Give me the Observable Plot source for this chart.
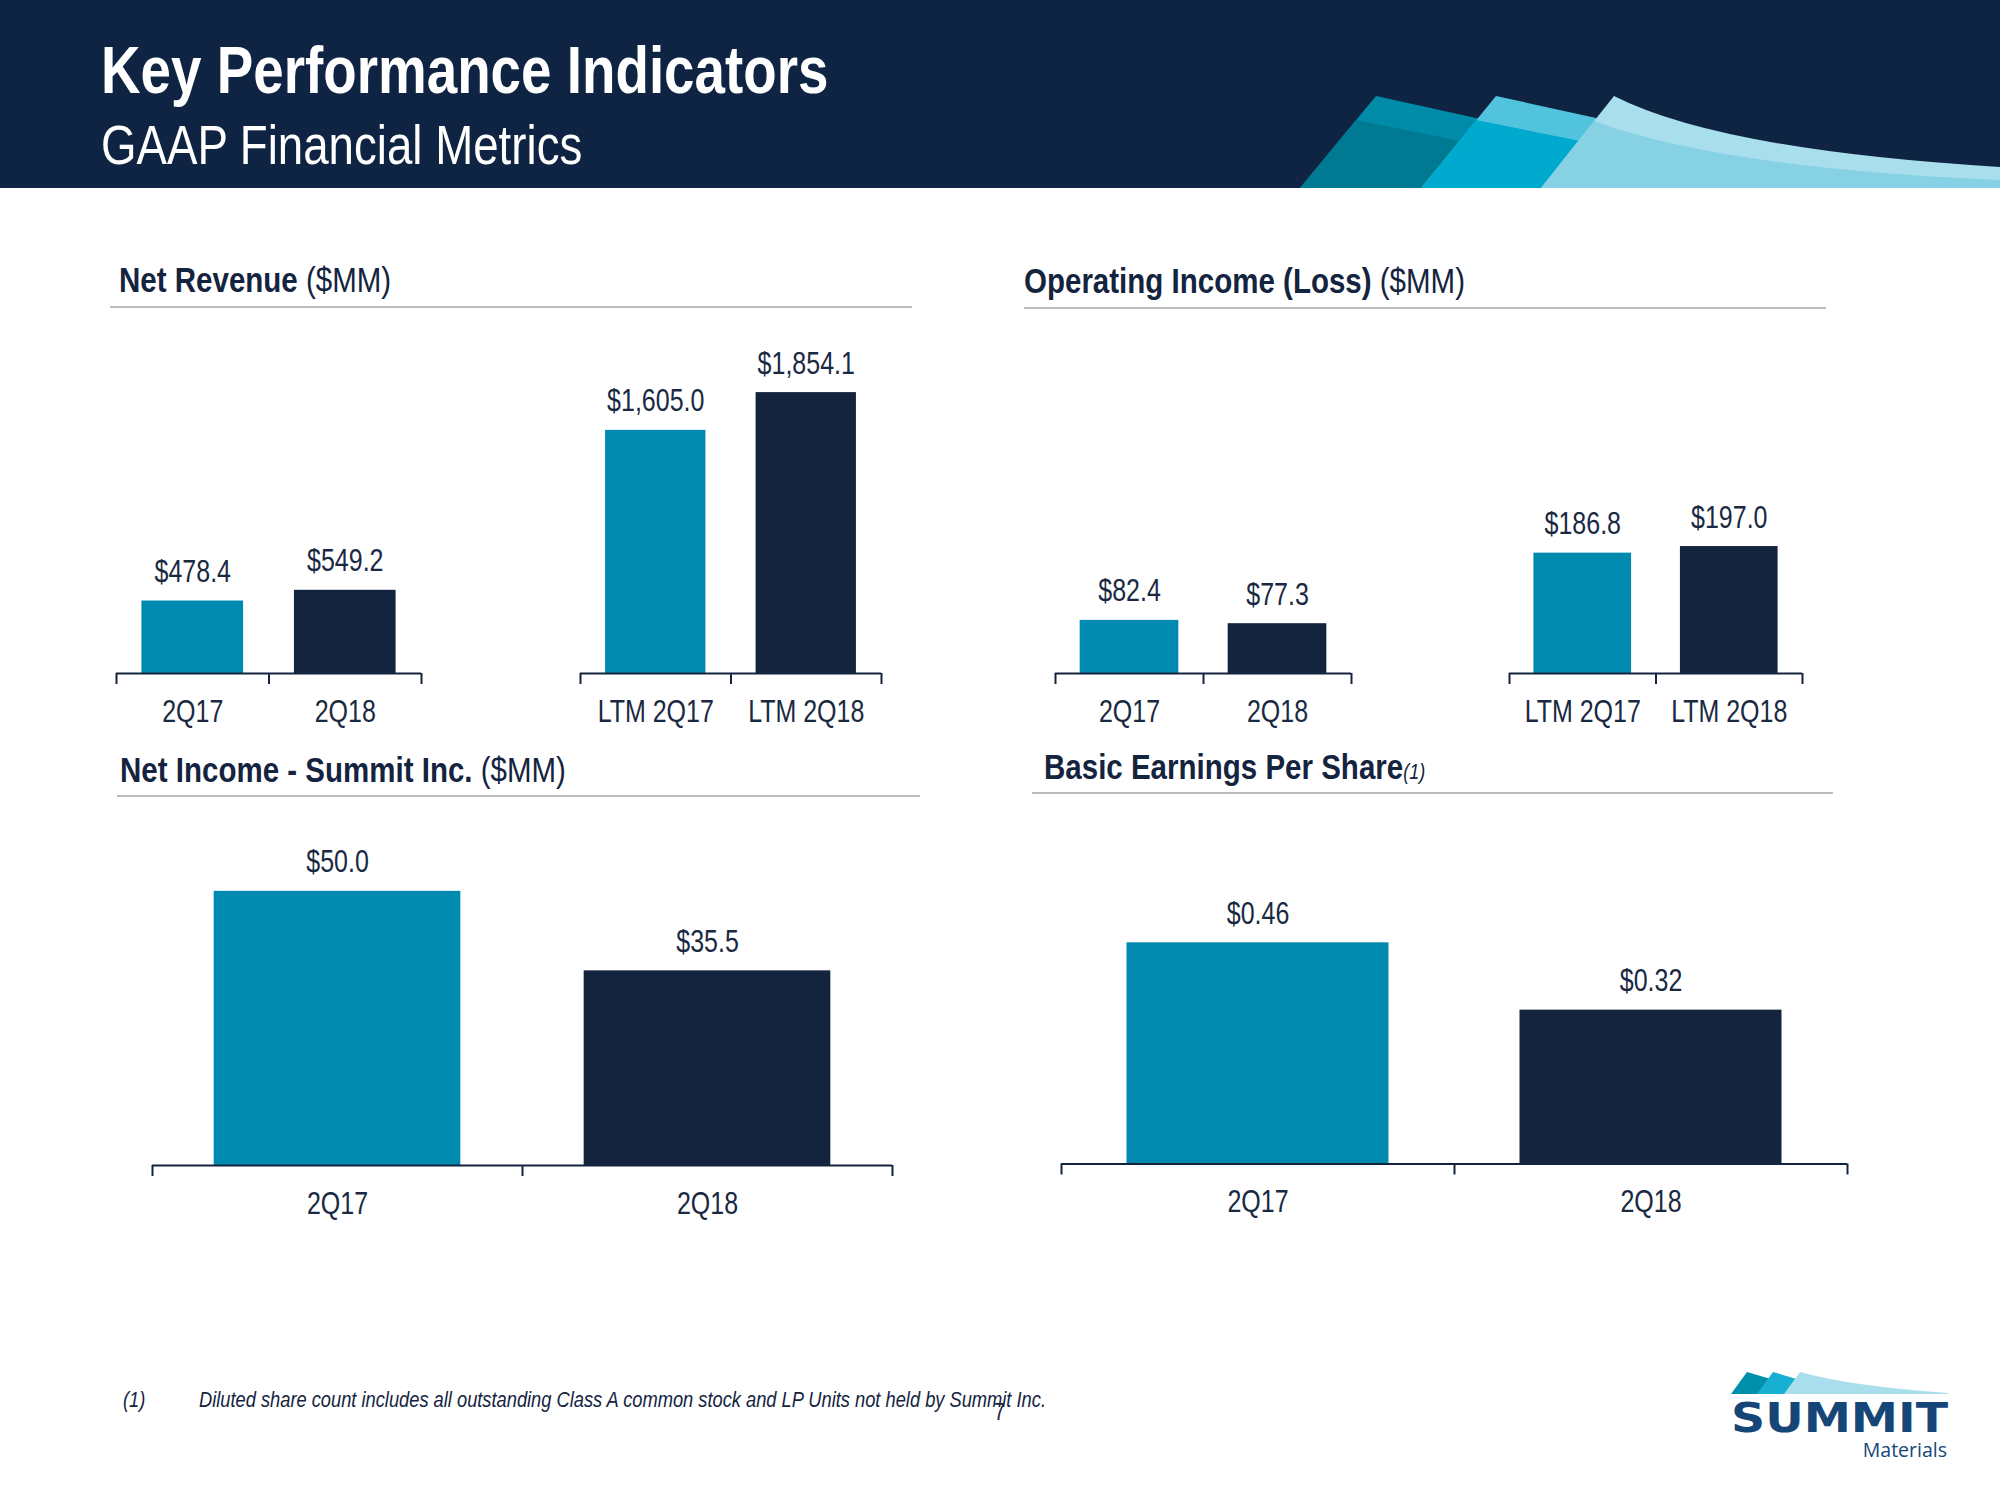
<!DOCTYPE html>
<html>
<head>
<meta charset="utf-8">
<script src="https://cdn.jsdelivr.net/npm/d3@7"></script>
<script src="https://cdn.jsdelivr.net/npm/@observablehq/plot@0.6"></script>
<style>
html, body { margin: 0; padding: 0; background: #ffffff; }
#page { position: relative; width: 2000px; height: 1500px; overflow: hidden; background: #ffffff;
        font-family: "Liberation Sans", Arial, sans-serif; }
#page > svg { position: absolute; }
</style>
</head>
<body>
<div id="page">
<svg id="deco" width="2000" height="1500" style="left:0;top:0" font-family="Liberation Sans, Arial, sans-serif">
  <rect x="0" y="0" width="2000" height="188" fill="#0F2342"/>
  <!-- header swooshes -->
  <path d="M1300,188 L1376,96 L1540,132 L1540,188 Z" fill="#008BA8"/>
  <path d="M1356,120 L1540,157 L1540,188 L1300,188 Z" fill="#007A92"/>
  <path d="M1421,188 L1496,96 L1660,132 L1660,188 Z" fill="#52C3DD"/>
  <path d="M1476,120 L1660,157 L1660,188 L1421,188 Z" fill="#00A9CE"/>
  <path d="M1541,188 L1614,96 Q1720,150 2000,167 L2000,188 Z" fill="#A9DEEC"/>
  <path d="M1594,121 Q1720,168 2000,180 L2000,188 L1541,188 Z" fill="#86D1E4"/>
  <text transform="translate(101,93) scale(0.82,1)" font-size="66.8" font-weight="bold" fill="#ffffff">Key Performance Indicators</text>
  <text transform="translate(101,164) scale(0.82,1)" font-size="55.7" fill="#ffffff">GAAP Financial Metrics</text>

  <!-- panel titles -->
  <text transform="translate(119,292) scale(0.82,1)" font-size="36" fill="#14243F"><tspan font-weight="bold">Net Revenue</tspan> ($MM)</text>
  <line x1="110" x2="912" y1="307" y2="307" stroke="#A6A6A6" stroke-width="1.5"/>
  <text transform="translate(1024,293) scale(0.82,1)" font-size="36" fill="#14243F"><tspan font-weight="bold">Operating Income (Loss)</tspan> ($MM)</text>
  <line x1="1024" x2="1826" y1="308" y2="308" stroke="#A6A6A6" stroke-width="1.5"/>
  <text transform="translate(120,782) scale(0.82,1)" font-size="36" fill="#14243F"><tspan font-weight="bold">Net Income - Summit Inc.</tspan> ($MM)</text>
  <line x1="117" x2="920" y1="796" y2="796" stroke="#A6A6A6" stroke-width="1.5"/>
  <text transform="translate(1044,779) scale(0.82,1)" font-size="36" fill="#14243F"><tspan font-weight="bold">Basic Earnings Per Share</tspan><tspan font-style="italic" font-size="22">(1)</tspan></text>
  <line x1="1032" x2="1833" y1="793" y2="793" stroke="#A6A6A6" stroke-width="1.5"/>

  <!-- footnote -->
  <text transform="translate(123,1407) scale(0.82,1)" font-size="22.3" font-style="italic" fill="#14243F">(1)</text>
  <text transform="translate(199,1407) scale(0.82,1)" font-size="22.3" font-style="italic" fill="#14243F">Diluted share count includes all outstanding Class A common stock and LP Units not held by Summit Inc.</text>
  <text transform="translate(994,1420) scale(0.82,1)" font-size="24" fill="#14243F">7</text>

  <!-- logo -->
  <path d="M1731,1394 L1747,1372 L1794,1386 L1794,1394 Z" fill="#008FAB"/>
  <path d="M1757,1394 L1773,1372 L1820,1386 L1820,1394 Z" fill="#17B0D2"/>
  <path d="M1784,1394 L1800,1372 Q1850,1386 1948,1393 L1948,1394 Z" fill="#A9DEEC"/>
  <text x="1731" y="1432" font-family="DejaVu Sans" font-weight="bold" font-size="40" textLength="217" lengthAdjust="spacingAndGlyphs" fill="#164678">SUMMIT</text>
  <text x="1947" y="1457" text-anchor="end" font-family="Open Sans" font-size="19.5" fill="#164678">Materials</text>
</svg>
</div>
<script>
// ---- Data ----
const qPeriods = ["2Q17", "2Q18"];
const ltmPeriods = ["LTM 2Q17", "LTM 2Q18"];
const netRevenueQ = [478.4, 549.2];
const netRevenueLTM = [1605.0, 1854.1];
const opIncomeQ = [82.4, 77.3];
const opIncomeLTM = [186.8, 197.0];
const netIncome = [50.0, 35.5];
const basicEPS = [0.46, 0.32];

// ---- Styles ----
const barColors = ["#008AB0", "#14243F"];
const NAVY = "#14243F";
const TEXT = "#1A2942";
const FONT = "Liberation Sans, Arial, sans-serif";
const NARROW = 0.82; // condensed look of the original typeface

const charts = [
  {labels: qPeriods,   values: netRevenueQ,   fmt: "$,.1f", yMax: 2000, h: 303,   left: 116,  right: 421,  axisY: 673},
  {labels: ltmPeriods, values: netRevenueLTM, fmt: "$,.1f", yMax: 2000, h: 303,   left: 580,  right: 881,  axisY: 673},
  {labels: qPeriods,   values: opIncomeQ,     fmt: "$,.1f", yMax: 450,  h: 290,   left: 1055, right: 1351, axisY: 673},
  {labels: ltmPeriods, values: opIncomeLTM,   fmt: "$,.1f", yMax: 450,  h: 290,   left: 1509, right: 1802, axisY: 673},
  {labels: qPeriods,   values: netIncome,     fmt: "$,.1f", yMax: 60,   h: 329,   left: 152,  right: 892,  axisY: 1165},
  {labels: qPeriods,   values: basicEPS,      fmt: "$,.2f", yMax: 0.6,  h: 288.5, left: 1061, right: 1847, axisY: 1163}
];

const page = document.getElementById("page");

for (const c of charts) {
  const n = c.labels.length;
  const mL = 6, mR = 6, mT = 60, mB = 70;
  const w = c.right - c.left;
  const inset = (w / n) / 6;
  const format = d3.format(c.fmt);
  const data = c.labels.map((label, i) => ({label, value: c.values[i], i}));
  const svg = Plot.plot({
    width: w + mL + mR,
    height: c.h + mT + mB,
    marginLeft: mL, marginRight: mR, marginTop: mT, marginBottom: mB,
    x: {type: "linear", domain: [0, n], axis: null, label: null},
    y: {domain: [0, c.yMax], axis: null, label: null},
    color: {domain: c.labels, range: barColors},
    style: {background: "transparent", overflow: "visible", fontFamily: FONT},
    marks: [
      Plot.rect(data, {x1: "i", x2: d => d.i + 1, y1: d => 0, y2: "value", fill: "label",
                       insetLeft: inset, insetRight: inset}),
      Plot.ruleY([0], {stroke: NAVY, strokeWidth: 2}),
      Plot.axisX(d3.range(n + 1), {tickSize: 11, tickFormat: () => "", stroke: NAVY,
                                   strokeWidth: 2, label: null}),
      Plot.text(data, {x: d => d.i + 0.5, y: "value", text: d => format(d.value),
                       dy: -19, lineAnchor: "bottom", fontSize: 30.5, fill: TEXT}),
      Plot.text(data, {x: d => d.i + 0.5, y: d => 0, text: "label",
                       dy: 48, lineAnchor: "bottom", fontSize: 30.5, fill: TEXT})
    ]
  });
  // condense the text glyphs horizontally around their anchor
  svg.querySelectorAll("text").forEach(t => {
    const tr = t.getAttribute("transform");
    if (tr) t.setAttribute("transform", tr + ` scale(${NARROW},1)`);
  });
  svg.style.position = "absolute";
  svg.style.left = (c.left - mL) + "px";
  svg.style.top = (c.axisY - c.h - mT) + "px";
  svg.style.maxWidth = "none";
  page.appendChild(svg);
}
</script>
</body>
</html>
